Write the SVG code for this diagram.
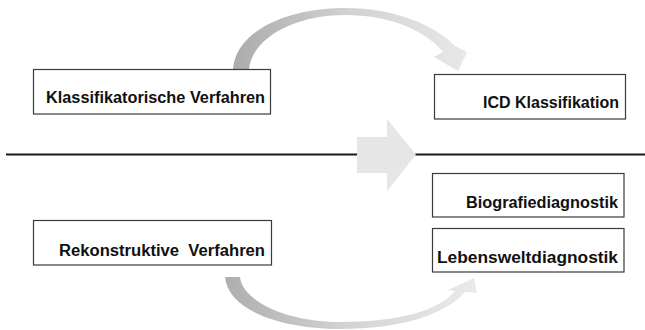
<svg xmlns="http://www.w3.org/2000/svg" width="645" height="330" viewBox="0 0 645 330">
<defs>
<linearGradient id="gTop" x1="233" y1="0" x2="468" y2="0" gradientUnits="userSpaceOnUse">
<stop offset="0" stop-color="#ababab"/>
<stop offset="0.5" stop-color="#d2d2d2"/>
<stop offset="1" stop-color="#e8e8e8"/>
</linearGradient>
<linearGradient id="gBot" x1="225" y1="0" x2="477" y2="0" gradientUnits="userSpaceOnUse">
<stop offset="0" stop-color="#aeaeae"/>
<stop offset="0.5" stop-color="#d4d4d4"/>
<stop offset="1" stop-color="#eaeaea"/>
</linearGradient>
<style>
.box{fill:#ffffff;stroke:#3a3a3a;stroke-width:1.2}
.lbl{font-family:"Liberation Sans",Arial,sans-serif;font-weight:bold;font-size:16px;fill:#111111;white-space:pre}
.sep{stroke:#1a1a1a;stroke-width:2.2;fill:none}
</style>
</defs>
<g id="connectors">
<line class="sep" x1="6" y1="154.5" x2="645" y2="154.5"/>
<path d="M357,137 L387,137 L387,119 L416,154.5 L387,191 L387,173 L357,173 Z" fill="#e6e6e6"/>
<path d="M233,69 C236,32 285,8 345,8 C395,8 435,25 455,46 L467,52 L458,71 L434,57 L443,52 C425,30 390,15 345,15 C295,15 252,38 249,69 Z" fill="url(#gTop)"/>
<path d="M225,277 C228,310 280,329 340,329 C400,329 445,315 465,292 L477,293 L474,278 L448,290 L455,291 C440,310 400,322 340,322 C285,322 242,300 240,277 Z" fill="url(#gBot)"/>
</g>
<g id="n1">
<rect class="box" x="33.5" y="69.5" width="237" height="44.5"/>
<text class="lbl" x="46" y="103" textLength="219" lengthAdjust="spacingAndGlyphs">Klassifikatorische Verfahren</text>
</g>
<g id="n2">
<rect class="box" x="434.5" y="74.5" width="191" height="44.5"/>
<text class="lbl" x="483" y="108" textLength="136" lengthAdjust="spacingAndGlyphs">ICD Klassifikation</text>
</g>
<g id="n3">
<rect class="box" x="432.5" y="173.5" width="191.5" height="43.5"/>
<text class="lbl" x="466" y="208" textLength="152" lengthAdjust="spacingAndGlyphs">Biografiediagnostik</text>
</g>
<g id="n4">
<rect class="box" x="432.5" y="228.5" width="191.5" height="43.5"/>
<text class="lbl" x="437" y="263" textLength="181" lengthAdjust="spacingAndGlyphs">Lebensweltdiagnostik</text>
</g>
<g id="n5">
<rect class="box" x="33.5" y="220.5" width="238" height="44.5"/>
<text class="lbl" x="59" y="256" textLength="206" lengthAdjust="spacingAndGlyphs">Rekonstruktive  Verfahren</text>
</g>
</svg>
